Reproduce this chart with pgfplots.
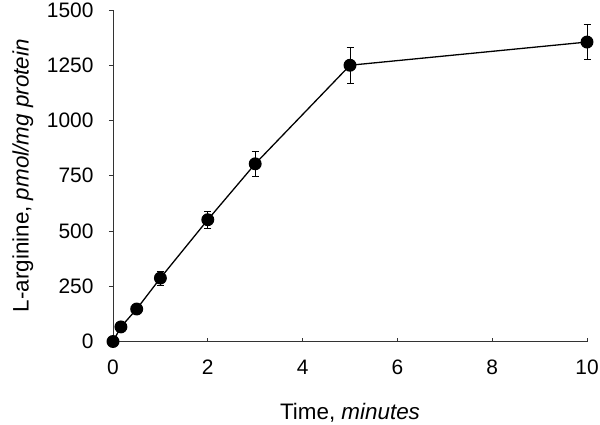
\documentclass[border=0pt]{standalone}
\usepackage{fontspec}
\setmainfont{Liberation Sans}
\usepackage{pgfplots}
\pgfplotsset{compat=1.18}
\newcommand\tl{\fontsize{21}{25}\selectfont}
\newcommand\lb{\fontsize{22.5}{27}\selectfont}
\begin{document}
\begin{tikzpicture}
\begin{axis}[
  at={(0,0)}, anchor=south west,
  scale only axis,
  width=474bp, height=331.5bp,
  xmin=0, xmax=10, ymin=0, ymax=1500,
  axis x line=bottom, axis y line=left,
  axis line style={-, line width=0.8pt, black!80},
  xtick={0,2,4,6,8,10},
  xticklabels={\tl 0,\tl 2,\tl 4,\tl 6,\tl 8,\tl 10},
  ytick={0,250,500,750,1000,1250,1500},
  yticklabels={\tl 0,\tl 250,\tl 500,\tl 750,\tl 1000,\tl 1250,\tl 1500},
  x tick style={line width=0.7pt, black!80},
  y tick style={line width=0.7pt, black!80},
  xtick align=inside, ytick align=outside,
  major tick length=4bp,
  xticklabel style={yshift=-15bp},
  yticklabel style={xshift=-12bp},
  clip=false,
  xlabel={\lb Time, \textit{minutes}},
  ylabel={\lb L-arginine, \textit{pmol/mg protein}},
  xlabel style={at={(axis description cs:0.5,-0.2142)}, anchor=center},
  ylabel style={at={(axis description cs:-0.19,0.5)}, anchor=center},
]
\addplot[black, line width=1.3pt, mark=*, mark size=5.8bp,
  error bars/.cd, y dir=both, y explicit,
  error bar style={line width=0.7pt, black},
  error mark options={rotate=90, mark size=3.5bp, line width=0.7pt, black}]
coordinates {
  (0,0) +- (0,0)
  (0.167,66) +- (0,0)
  (0.5,147) +- (0,0)
  (1,287) +- (0,31)
  (2,551) +- (0,37)
  (3,804) +- (0,55)
  (5,1250) +- (0,82)
  (10,1355) +- (0,78)
};
\end{axis}
\pgfresetboundingbox
\path[use as bounding box] (-113bp,-83.5bp) rectangle (487bp,341.5bp);
\end{tikzpicture}
\end{document}
